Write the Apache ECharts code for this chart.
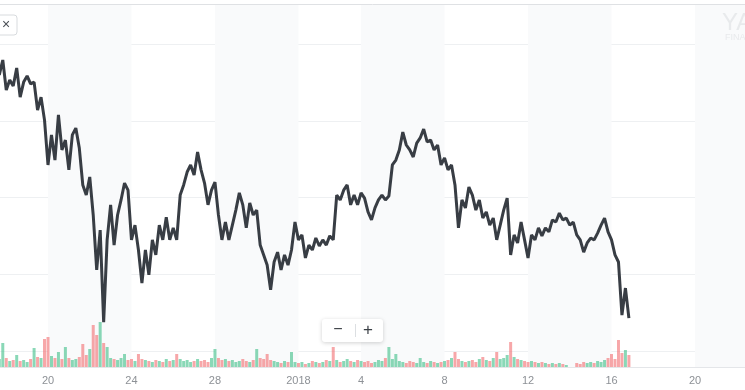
<!DOCTYPE html>
<html><head><meta charset="utf-8">
<script src="https://cdn.jsdelivr.net/npm/echarts@6/dist/echarts.min.js"></script>
<style>html,body{margin:0;padding:0;background:#fff}#c{width:745px;height:390px}</style>
</head><body><div id="c"></div>
<script>
// Intraday series, one point every 4 hours starting 17 Dec 2017 16:00 UTC
const startTime = Date.UTC(2017, 11, 17, 16, 0);
const stepHours = 4;
const prices = [
 18990,19480,18500,18830,18630,19220,18270,18760,18960,18700,
 18760,17850,18270,17520,16060,17040,16220,17690,16550,16870,
 15900,17040,17260,16610,15410,15080,15670,14430,12640,13940,
 10940,13620,14760,13450,14430,14920,15470,15240,13620,14100,
 13290,12210,13290,12480,13620,13130,14100,13620,14360,13620,
 14010,13620,15080,15410,15830,16060,15730,16480,15900,15470,
 14760,15240,15500,14430,13620,14200,13620,14100,14590,15150,
 14760,14010,14820,14430,14590,13450,13130,12800,11990,12900,
 13220,12640,13130,12800,13290,14200,13620,13780,13030,13450,
 13290,13680,13420,13620,13450,13750,13620,15080,14920,15240,
 15410,14760,15080,14760,15150,14980,14530,14270,14660,14920,
 15080,14920,15050,16060,16220,16550,17130,16710,16550,16320,
 16770,16940,17230,16810,16870,16550,16710,16060,16290,15900,
 16060,15410,14010,14920,14660,15340,15080,14590,14920,14330,
 14530,14100,14330,13620,14100,14590,14980,13130,13780,13520,
 14200,13620,13030,13780,13620,14010,13750,14010,13880,14270,
 14200,14490,14270,14330,14100,14200,13780,13620,13220,13520,
 13680,13620,13840,14100,14330,13880,13620,13130,12900,11170,
 12050,11070
];
const volumes = [
 8,24,9,6,7,12,6,7,5,8,
 19,10,9,28,30,11,9,15,8,20,
 9,7,8,10,23,12,18,42,32,45,
 24,20,9,8,7,9,13,7,8,6,
 13,8,7,6,5,7,6,5,8,6,
 7,13,8,6,7,5,6,8,6,7,
 5,9,18,9,7,8,6,7,5,6,
 8,6,5,7,18,9,8,13,7,6,
 5,4,6,5,15,5,4,5,3,4,
 6,5,4,5,7,6,20,7,5,6,
 8,6,5,7,6,5,6,4,5,7,
 6,9,20,8,13,6,5,4,6,5,
 4,9,5,4,6,5,4,5,6,7,
 9,15,8,6,5,6,7,5,8,10,
 7,6,9,15,8,9,12,25,10,8,
 7,6,5,6,5,4,5,4,3,4,
 3,4,3,2,0,0,4,3,5,4,
 5,4,6,5,7,9,13,8,27,14,
 17,12
];
const tickDates = ['2017-12-20','2017-12-24','2017-12-28','2018-01-01','2018-01-04','2018-01-08','2018-01-12','2018-01-16','2018-01-20'];
const tickLabels = ['20','24','28','2018','4','8','12','16','20'];
const bandRanges = [['2017-12-20','2017-12-24'],['2017-12-28','2018-01-01'],['2018-01-04','2018-01-08'],['2018-01-12','2018-01-16'],['2018-01-20','2018-01-24']];
const priceTicks = {min: 10000, max: 20000, interval: 2500};

function utc(s){ const p = s.split('-').map(Number); return Date.UTC(p[0], p[1]-1, p[2]); }
const xMin = Date.UTC(2017, 11, 17, 16, 48);
const xMax = Date.UTC(2018, 0, 22, 9, 30);
const tickValues = tickDates.map(utc);
const times = prices.map((_, i) => startTime + i * stepHours * 3600000);
const priceData = prices.map((p, i) => [times[i], p]);
const volData = volumes.map((v, i) => [times[i], v]);
const bandData = bandRanges.map(r => [utc(r[0]), utc(r[1])]);

const chart = echarts.init(document.getElementById('c'), null, {renderer: 'canvas'});
const xBase = {type: 'value', min: xMin, max: xMax, splitLine: {show: false}, axisTick: {show: false}};
chart.setOption({
  animation: false,
  backgroundColor: '#ffffff',
  grid: [
    {left: 0, right: 0, top: 5, bottom: 23, outerBoundsMode: 'none'},
    {left: 0, right: 0, top: 44, bottom: 39, outerBoundsMode: 'none'},
    {left: 0, right: 0, height: 100, bottom: 23, outerBoundsMode: 'none'}
  ],
  xAxis: [
    Object.assign({}, xBase, {gridIndex: 0,
      axisLine: {show: true, lineStyle: {color: '#e4e6e9', width: 1}},
      axisLabel: {show: true, customValues: tickValues, margin: 8, color: '#8d9196', fontSize: 11,
        fontFamily: 'Liberation Sans, Arial, sans-serif',
        formatter: v => { const k = tickValues.indexOf(v); return k >= 0 ? tickLabels[k] : ''; }}}),
    Object.assign({}, xBase, {gridIndex: 1, axisLine: {show: false}, axisLabel: {show: false}}),
    Object.assign({}, xBase, {gridIndex: 2, axisLine: {show: false}, axisLabel: {show: false}})
  ],
  yAxis: [
    {gridIndex: 0, type: 'value', min: 0, max: 1, show: false},
    {gridIndex: 1, type: 'value', min: priceTicks.min, max: priceTicks.max, interval: priceTicks.interval,
      axisLabel: {show: false}, axisLine: {show: false}, axisTick: {show: false},
      splitLine: {show: true, lineStyle: {color: '#eef0f2', width: 1}}},
    {gridIndex: 2, type: 'value', min: 0, max: 100, show: false, splitLine: {show: false}}
  ],
  series: [
    {type: 'custom', xAxisIndex: 0, yAxisIndex: 0, data: bandData, clip: true, silent: true, z: 0,
      renderItem: (params, api) => {
        const a = api.coord([api.value(0), 1]);
        const b = api.coord([api.value(1), 0]);
        return {type: 'rect', shape: {x: a[0], y: a[1], width: b[0] - a[0], height: b[1] - a[1]},
          style: {fill: '#f9fafb'}};
      }},
    {type: 'bar', xAxisIndex: 2, yAxisIndex: 2, data: volData, barWidth: 3, z: 2,
      itemStyle: {color: p => {
        const i = p.dataIndex;
        return (i > 0 && prices[i] < prices[i-1]) ? 'rgba(242,108,112,0.6)' : 'rgba(60,190,135,0.6)';
      }}},
    {type: 'line', xAxisIndex: 1, yAxisIndex: 1, data: priceData, showSymbol: false, z: 3,
      lineStyle: {color: '#383d44', width: 3, join: 'bevel'}, clip: false}
  ],
  graphic: [
    {type: 'line', shape: {x1: 0, y1: 4.5, x2: 745, y2: 4.5}, style: {stroke: '#dfe1e4', lineWidth: 1}, z: 10},
    {type: 'rect', shape: {x: -10, y: 15, width: 27, height: 20, r: 3},
      style: {fill: '#ffffff', stroke: '#d8dbde', lineWidth: 1}, z: 10},
    {type: 'text', x: 6, y: 25, style: {text: '×', fontSize: 14, fill: '#4a4f55', align: 'center', verticalAlign: 'middle'}, z: 11},
    {type: 'rect', shape: {x: 322, y: 319, width: 61, height: 23, r: 3},
      style: {fill: '#ffffff', shadowBlur: 4, shadowColor: 'rgba(0,0,0,0.18)', shadowOffsetY: 1}, z: 10},
    {type: 'text', x: 338, y: 330, style: {text: '−', fontSize: 16, fill: '#3a3f45', align: 'center', verticalAlign: 'middle'}, z: 11},
    {type: 'line', shape: {x1: 355.5, y1: 324, x2: 355.5, y2: 337}, style: {stroke: '#dcdfe2', lineWidth: 1}, z: 11},
    {type: 'text', x: 368, y: 330, style: {text: '+', fontSize: 17, fill: '#3a3f45', align: 'center', verticalAlign: 'middle'}, z: 11},
    {type: 'text', x: 722, y: 11, style: {text: 'YAHOO!', fontSize: 24, fill: '#e8eaec', fontFamily: 'Liberation Sans, Arial, sans-serif'}, z: 1},
    {type: 'text', x: 725, y: 33, style: {text: 'FINANCE', fontSize: 9, fill: '#e8eaec', fontFamily: 'Liberation Sans, Arial, sans-serif'}, z: 1}
  ]
});
</script></body></html>
